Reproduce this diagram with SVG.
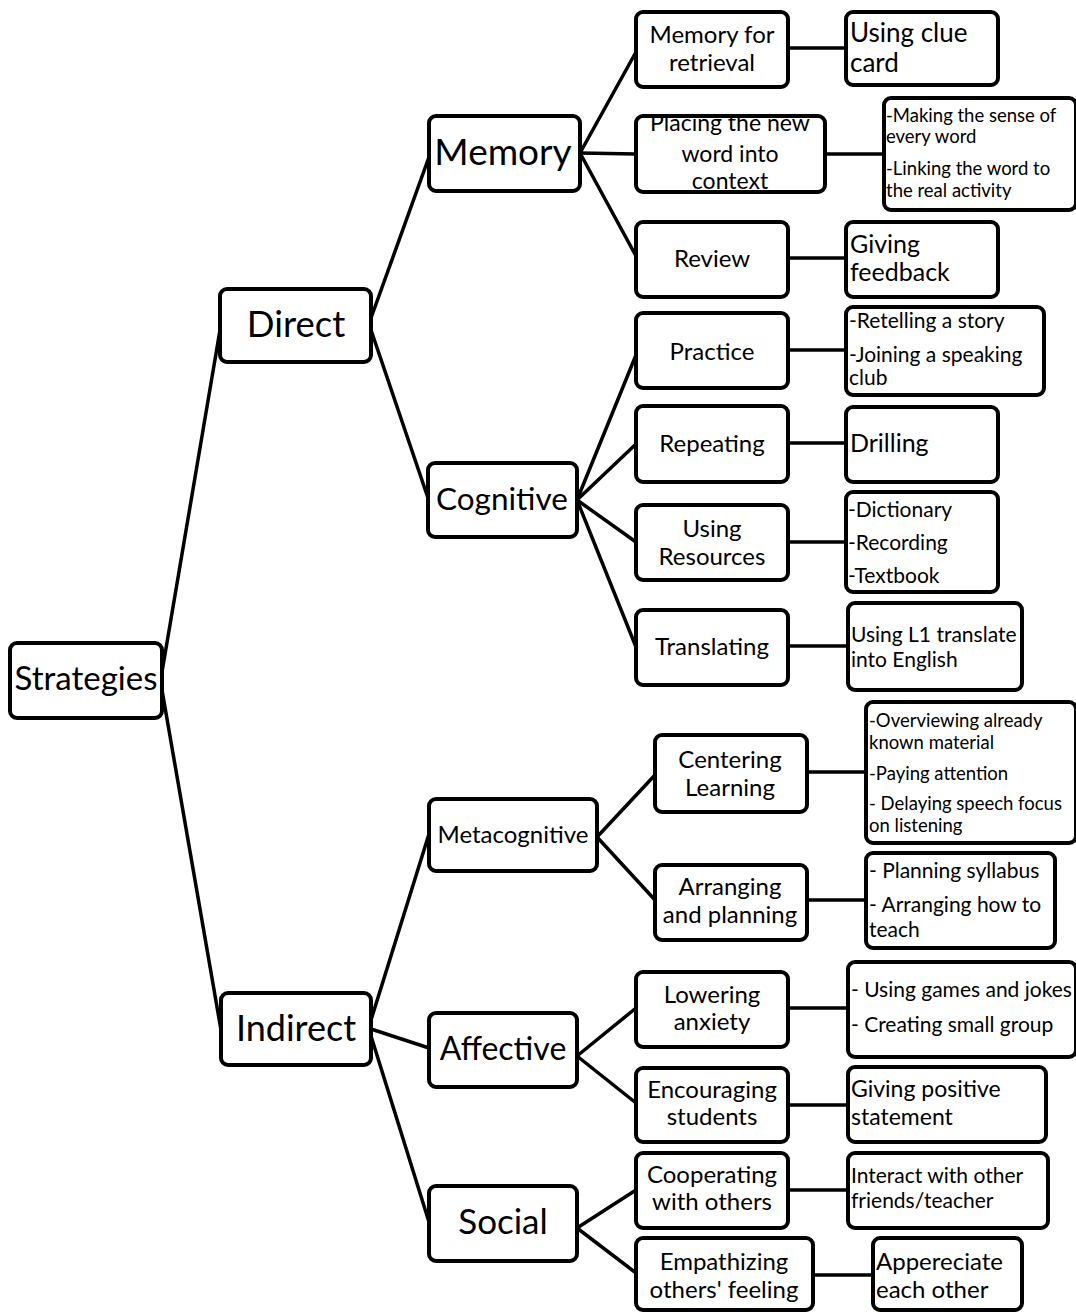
<svg xmlns="http://www.w3.org/2000/svg" width="1076" height="1312" viewBox="0 0 1076 1312">
<style>
rect{fill:#fff;stroke:#000;stroke-width:4}
.c line{stroke:#000;stroke-width:3.5;stroke-linecap:round}
text{font-family:Lato,"Liberation Sans",sans-serif;fill:#000}
.m{text-anchor:middle}
.f24{font-size:24px}.f21{font-size:21px}.f19{font-size:18.5px}.f25{font-size:25px}
</style>
<rect x="0" y="0" width="1076" height="1312" style="stroke:none"/>
<g class="c">
<line x1="162" y1="672" x2="220" y2="330"/>
<line x1="162" y1="690" x2="221" y2="1030"/>
<line x1="371" y1="318" x2="429" y2="157"/>
<line x1="371" y1="330" x2="428" y2="498"/>
<line x1="580" y1="153" x2="636" y2="52"/>
<line x1="580" y1="153" x2="636" y2="154"/>
<line x1="580" y1="153" x2="636" y2="256"/>
<line x1="788" y1="48" x2="846" y2="48"/>
<line x1="825" y1="154" x2="884" y2="154"/>
<line x1="788" y1="258" x2="846" y2="258"/>
<line x1="577" y1="500" x2="636" y2="355"/>
<line x1="577" y1="500" x2="636" y2="444"/>
<line x1="577" y1="500" x2="636" y2="542"/>
<line x1="577" y1="500" x2="636" y2="647"/>
<line x1="788" y1="350" x2="846" y2="350"/>
<line x1="788" y1="443" x2="846" y2="443"/>
<line x1="788" y1="542" x2="846" y2="542"/>
<line x1="788" y1="646" x2="848" y2="646"/>
<line x1="371" y1="1020" x2="429" y2="834"/>
<line x1="371" y1="1029" x2="429" y2="1048"/>
<line x1="371" y1="1036" x2="429" y2="1222"/>
<line x1="597" y1="837" x2="655" y2="775"/>
<line x1="597" y1="837" x2="655" y2="900"/>
<line x1="807" y1="772" x2="866" y2="772"/>
<line x1="807" y1="900" x2="866" y2="900"/>
<line x1="577" y1="1056" x2="636" y2="1008"/>
<line x1="577" y1="1056" x2="636" y2="1103"/>
<line x1="577" y1="1228" x2="636" y2="1190"/>
<line x1="577" y1="1228" x2="636" y2="1273"/>
<line x1="788" y1="1008" x2="848" y2="1008"/>
<line x1="788" y1="1105" x2="848" y2="1105"/>
<line x1="788" y1="1190" x2="848" y2="1190"/>
<line x1="813" y1="1275" x2="873" y2="1275"/>
</g>
<g id="strategies"><rect x="10" y="643" width="152" height="75" rx="7"/><text x="86" y="690" class="m" font-size="33">Strategies</text></g>
<g id="direct"><rect x="220" y="289" width="151" height="73" rx="7"/><text x="296" y="337" class="m" font-size="36.5">Direct</text></g>
<g id="indirect"><rect x="221" y="993" width="150" height="72" rx="7"/><text x="296" y="1041" class="m" font-size="36">Indirect</text></g>
<g id="memory"><rect x="429" y="116" width="151" height="75" rx="7"/><text x="503" y="165" class="m" font-size="37">Memory</text></g>
<g id="cognitive"><rect x="428" y="463" width="149" height="74" rx="7"/><text x="502" y="510" class="m" font-size="31.5">Cognitive</text></g>
<g id="metacognitive"><rect x="429" y="799" width="168" height="72" rx="7"/><text x="513" y="843" class="m" font-size="24">Metacognitive</text></g>
<g id="affective"><rect x="429" y="1013" width="148" height="74" rx="7"/><text x="503" y="1060" class="m" font-size="32">Affective</text></g>
<g id="social"><rect x="429" y="1186" width="148" height="75" rx="7"/><text x="503" y="1234" class="m" font-size="35">Social</text></g>

<g id="memory-retrieval"><rect x="636" y="12" width="152" height="75" rx="7"/><text x="712" y="43" class="m f24">Memory for</text><text x="712" y="71" class="m f24">retrieval</text></g>
<g id="clue-card"><rect x="846" y="12" width="152" height="73" rx="7"/><text x="850" y="42" font-size="26">Using clue</text><text x="850" y="72" font-size="26">card</text></g>
<g id="placing"><rect x="636" y="116" width="189" height="76" rx="7"/><text x="730" y="131" class="m" font-size="23">Placing the new</text><text x="730" y="162" class="m" font-size="23">word into</text><text x="730" y="189" class="m" font-size="23">context</text></g>
<g id="making-sense"><rect x="884" y="98" width="192" height="112" rx="7"/><text x="886" y="122" class="f19">-Making the sense of</text><text x="886" y="143" class="f19">every word</text><text x="886" y="175" class="f19">-Linking the word to</text><text x="886" y="197" class="f19">the real activity</text></g>
<g id="review"><rect x="636" y="222" width="152" height="75" rx="7"/><text x="712" y="267" class="m f24">Review</text></g>
<g id="feedback"><rect x="846" y="222" width="152" height="75" rx="7"/><text x="850" y="253" class="f25">Giving</text><text x="850" y="281" class="f25">feedback</text></g>

<g id="practice"><rect x="636" y="313" width="152" height="75" rx="7"/><text x="712" y="360" class="m f24">Practice</text></g>
<g id="retelling"><rect x="846" y="307" width="198" height="88" rx="7"/><text x="849" y="328" class="f21">-Retelling a story</text><text x="849" y="362" class="f21">-Joining a speaking</text><text x="849" y="385" class="f21">club</text></g>
<g id="repeating"><rect x="636" y="406" width="152" height="76" rx="7"/><text x="712" y="452" class="m f24">Repeating</text></g>
<g id="drilling"><rect x="846" y="407" width="152" height="75" rx="7"/><text x="850" y="452" class="f25">Drilling</text></g>
<g id="resources"><rect x="636" y="505" width="152" height="75" rx="7"/><text x="712" y="537" class="m f24">Using</text><text x="712" y="565" class="m f24">Resources</text></g>
<g id="dictionary"><rect x="846" y="492" width="152" height="100" rx="7"/><text x="848" y="517" class="f21">-Dictionary</text><text x="848" y="550" class="f21">-Recording</text><text x="848" y="583" class="f21">-Textbook</text></g>
<g id="translating"><rect x="636" y="610" width="152" height="75" rx="7"/><text x="712" y="655" class="m f24">Translating</text></g>
<g id="l1"><rect x="848" y="603" width="174" height="87" rx="7"/><text x="851" y="642" class="f21">Using L1 translate</text><text x="851" y="667" class="f21">into English</text></g>

<g id="centering"><rect x="655" y="735" width="152" height="77" rx="7"/><text x="730" y="768" class="m f24">Centering</text><text x="730" y="796" class="m f24">Learning</text></g>
<g id="overviewing"><rect x="866" y="702" width="210" height="141" rx="7"/><text x="869" y="727" class="f19">-Overviewing already</text><text x="869" y="749" class="f19">known material</text><text x="869" y="780" class="f19">-Paying attention</text><text x="869" y="810" class="f19">- Delaying speech focus</text><text x="869" y="832" class="f19">on listening</text></g>
<g id="arranging"><rect x="655" y="865" width="152" height="75" rx="7"/><text x="730" y="895" class="m f24">Arranging</text><text x="730" y="923" class="m f24">and planning</text></g>
<g id="planning"><rect x="866" y="853" width="189" height="95" rx="7"/><text x="869" y="878" class="f21">- Planning syllabus</text><text x="869" y="912" class="f21">- Arranging how to</text><text x="869" y="937" class="f21">teach</text></g>

<g id="lowering"><rect x="636" y="972" width="152" height="75" rx="7"/><text x="712" y="1003" class="m f24">Lowering</text><text x="712" y="1030" class="m f24">anxiety</text></g>
<g id="games"><rect x="848" y="962" width="228" height="95" rx="7"/><text x="851" y="997" class="f21">- Using games and jokes</text><text x="851" y="1032" class="f21">- Creating small group</text></g>
<g id="encouraging"><rect x="636" y="1068" width="152" height="74" rx="7"/><text x="712" y="1098" class="m f24">Encouraging</text><text x="712" y="1125" class="m f24">students</text></g>
<g id="positive"><rect x="848" y="1067" width="198" height="75" rx="7"/><text x="851" y="1097" font-size="23">Giving positive</text><text x="851" y="1125" font-size="23">statement</text></g>
<g id="cooperating"><rect x="636" y="1153" width="152" height="75" rx="7"/><text x="712" y="1183" class="m f24">Cooperating</text><text x="712" y="1210" class="m f24">with others</text></g>
<g id="interact"><rect x="848" y="1153" width="200" height="75" rx="7"/><text x="851" y="1183" class="f21">Interact with other</text><text x="851" y="1208" class="f21">friends/teacher</text></g>
<g id="empathizing"><rect x="636" y="1238" width="177" height="72" rx="7"/><text x="724" y="1270" class="m f24">Empathizing</text><text x="724" y="1298" class="m f24">others' feeling</text></g>
<g id="appreciate"><rect x="873" y="1238" width="149" height="72" rx="7"/><text x="876" y="1270" font-size="24">Appereciate</text><text x="876" y="1298" font-size="24">each other</text></g>
</svg>
